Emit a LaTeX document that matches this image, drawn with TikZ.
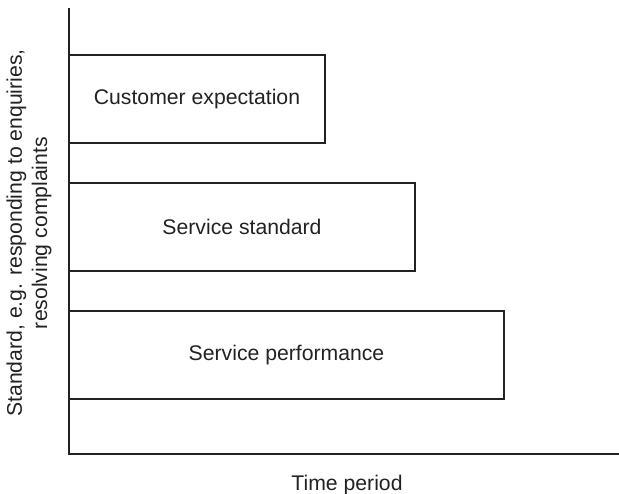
\documentclass[tikz,border=0pt]{standalone}
\usepackage{fontspec}
\setmainfont{Liberation Sans}
\usetikzlibrary{positioning}
\definecolor{ink}{HTML}{222222}

\begin{document}
\begin{tikzpicture}[x=0.5pt, y=-0.5pt,
    box/.style={rectangle, draw=ink, line width=0.6pt, minimum height=44pt,
      inner sep=0pt, outer sep=0pt, text=ink, font=\fontsize{10.6}{12.7}\selectfont},
    lbl/.style={inner sep=0pt, text=ink, font=\fontsize{10.6}{12.7}\selectfont},
    axis/.style={draw=ink, line width=0.6pt}]
  \useasboundingbox (0,0) rectangle (619,493);
  \coordinate (O) at (69,454);
  \coordinate (ytop) at (69,8);
  \coordinate (xend) at (619,454);
  \draw[axis] (ytop) -- (O) -- (xend);
  \node[box, minimum width=128pt, anchor=north west] (expect) at (69,55) {Customer expectation};
  \node[box, minimum width=173pt, below right=20pt and 0pt of expect.south west] (standard) {Service standard};
  \node[box, minimum width=217.5pt, below right=20pt and 0pt of standard.south west] (perform) {Service performance};
  \node[lbl, rotate=90, align=center] (ylabel) at (29,233)
    {Standard, e.g. responding to enquiries,\\resolving complaints};
  \node[lbl] (xlabel) at (347,485) {Time period};
\end{tikzpicture}
\end{document}
